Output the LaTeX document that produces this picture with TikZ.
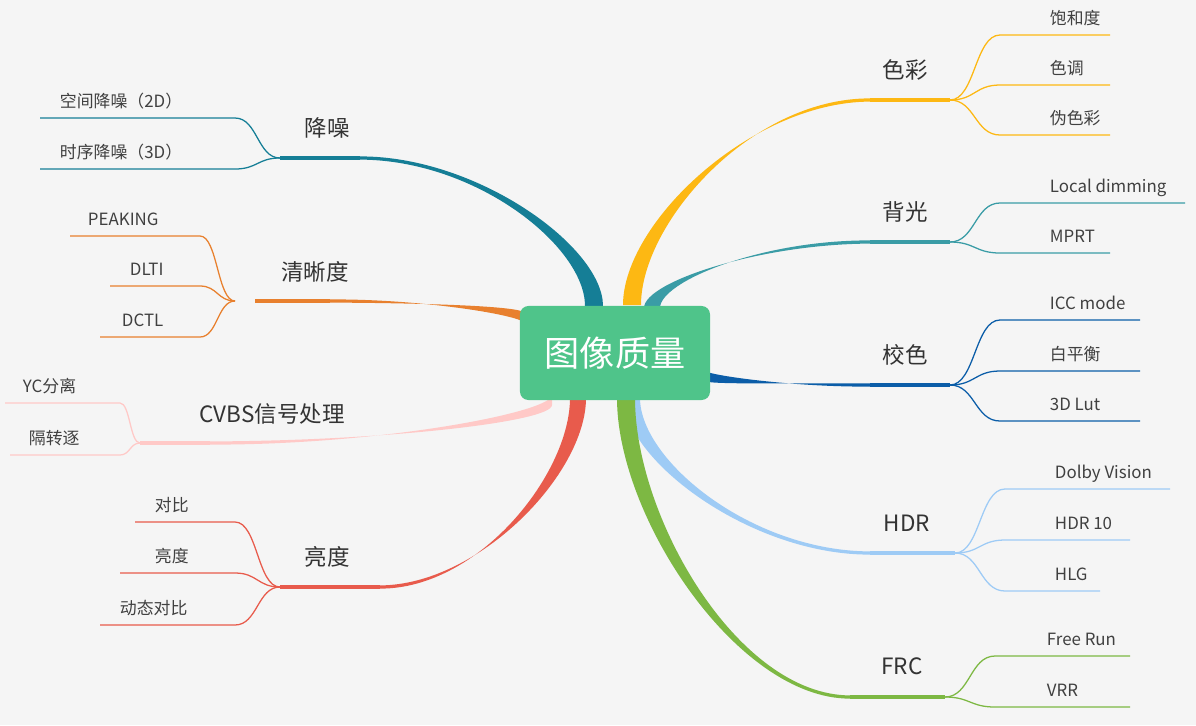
\documentclass[tikz,border=0pt]{standalone}
\usepackage{fontspec}
\setmainfont{Noto Sans CJK SC}
\usetikzlibrary{calc}
\definecolor{bgcol}{HTML}{F5F5F5}
\definecolor{corecol}{HTML}{4FC48A}
\definecolor{secai}{HTML}{FDB813}
\definecolor{beiguang}{HTML}{3A9CA6}
\definecolor{jiaose}{HTML}{0B5DA8}
\definecolor{hdrcol}{HTML}{9ECBF5}
\definecolor{frccol}{HTML}{7DB843}
\definecolor{jiangzao}{HTML}{157E96}
\definecolor{qingxi}{HTML}{E8802E}
\definecolor{cvbs}{HTML}{FFC9C7}
\definecolor{liangdu}{HTML}{E85B4C}
\tikzset{
  leaftext/.style={anchor=base west,font=\fontsize{12}{14}\selectfont,text=black!75},
  toptext/.style={font=\fontsize{16}{18}\selectfont,text=black!80},
  leafline/.style={line width=0.9pt},
  topline/.style={line width=2.2pt}
}
% tapered branch: colour, start, end, half width offset
\newcommand\branch[4]{%
  \coordinate (c1) at ($(#2)!0.4!(#2 |- #3)$);
  \coordinate (c2) at ($(#3)!0.5!(#3 -| #2)$);
  \fill[#1] ($(#2)+(#4)$) .. controls ($(c1)+(#4)$) and ($(c2)+(0,-2)$) .. ($(#3)+(0,-1.6)$)
    -- ($(#3)+(0,1.6)$) .. controls ($(c2)+(0,2)$) and ($(c1)-(#4)$) .. ($(#2)-(#4)$) -- cycle;}
% leaf: colour, jx, jy, bend x, far x, y, text x, text, name
\newcommand\leaf[9]{%
  \pgfmathsetmacro\mx{(#2+#4)/2}
  \draw[#1,leafline] (#2,#3) .. controls (\mx,#3) and (\mx,#6) .. (#4,#6) -- (#5,#6);
  \node[leaftext] (#9) at (#7,#6-11) {#8};}
\begin{document}
\begin{tikzpicture}[x=0.025cm,y=-0.025cm]
  \fill[bgcol] (0,0) rectangle (1196,725);
  \useasboundingbox (0,0) rectangle (1196,725);
  % branches
  \branch{secai}{632,305}{870,100}{9,0}
  \branch{beiguang}{652,308}{870,242}{8,0}
  \branch{jiaose}{706,376}{870,385}{0,5}
  \branch{hdrcol}{632,398}{870,553}{8,0}
  \branch{frccol}{626,398}{850,697}{9,0}
  \branch{jiangzao}{594,306}{360,158}{9,0}
  \branch{qingxi}{524,318}{330,301}{0,5}
  \branch{cvbs}{552,400}{210,443}{0,5}
  \branch{liangdu}{578,398}{380,587}{8,0}
  \node[fill=corecol,rounded corners=6pt,minimum width=4.75cm,minimum height=2.35cm,
    text=white,font=\fontsize{25}{28}\selectfont] (core) at (615,353) {图像质量};
  % right side
  \draw[secai,topline] (870,100) -- (950,100);
  \node[toptext] (secaiN) at (905,70) {色彩};
  \leaf{secai}{950}{100}{1000}{1110}{35}{1045}{饱和度}{l1}
  \leaf{secai}{950}{100}{1000}{1110}{85}{1045}{色调}{l2}
  \leaf{secai}{950}{100}{1000}{1110}{135}{1045}{伪色彩}{l3}
  \draw[beiguang,topline] (870,242) -- (950,242);
  \node[toptext] (beiguangN) at (905,212) {背光};
  \leaf{beiguang}{950}{242}{1000}{1185}{203}{1045}{Local dimming}{l4}
  \leaf{beiguang}{950}{242}{1000}{1110}{253}{1045}{MPRT}{l5}
  \draw[jiaose,topline] (870,385) -- (950,385);
  \node[toptext] (jiaoseN) at (905,355) {校色};
  \leaf{jiaose}{950}{385}{1000}{1140}{320}{1045}{ICC mode}{l6}
  \leaf{jiaose}{950}{385}{1000}{1140}{371}{1045}{白平衡}{l7}
  \leaf{jiaose}{950}{385}{1000}{1140}{421}{1045}{3D Lut}{l8}
  \draw[hdrcol,topline] (870,553) -- (955,553);
  \node[toptext] (hdrN) at (907,523) {HDR};
  \leaf{hdrcol}{955}{553}{1005}{1170}{489}{1050}{Dolby Vision}{l9}
  \leaf{hdrcol}{955}{553}{1005}{1130}{540}{1050}{HDR 10}{l10}
  \leaf{hdrcol}{955}{553}{1005}{1100}{591}{1050}{HLG}{l11}
  \draw[frccol,topline] (850,697) -- (945,697);
  \node[toptext] (frcN) at (902,666) {FRC};
  \leaf{frccol}{945}{697}{995}{1130}{656}{1042}{Free Run}{l12}
  \leaf{frccol}{945}{697}{995}{1130}{707}{1042}{VRR}{l13}
  % left side
  \draw[jiangzao,topline] (280,158) -- (360,158);
  \node[toptext] (jiangzaoN) at (327,128) {降噪};
  \leaf{jiangzao}{280}{158}{235}{40}{118}{55}{空间降噪（2D）}{l14}
  \leaf{jiangzao}{280}{158}{235}{40}{169}{55}{时序降噪（3D）}{l15}
  \draw[qingxi,topline] (255,301) -- (330,301);
  \node[toptext] (qingxiN) at (315,272) {清晰度};
  \leaf{qingxi}{235}{301}{200}{70}{236}{83}{PEAKING}{l16}
  \leaf{qingxi}{235}{301}{200}{110}{286}{125}{DLTI}{l17}
  \leaf{qingxi}{235}{301}{200}{100}{337}{117}{DCTL}{l18}
  \draw[cvbs,topline] (140,443) -- (210,443);
  \node[toptext] (cvbsN) at (272,414) {CVBS信号处理};
  \leaf{cvbs}{140}{443}{120}{5}{403}{18}{YC分离}{l19}
  \leaf{cvbs}{140}{443}{120}{10}{455}{24}{隔转逐}{l20}
  \draw[liangdu,topline] (280,587) -- (380,587);
  \node[toptext] (liangduN) at (327,557) {亮度};
  \leaf{liangdu}{280}{587}{235}{135}{522}{150}{对比}{l21}
  \leaf{liangdu}{280}{587}{235}{120}{573}{150}{亮度}{l22}
  \leaf{liangdu}{280}{587}{235}{100}{625}{115}{动态对比}{l23}
\end{tikzpicture}
\end{document}
